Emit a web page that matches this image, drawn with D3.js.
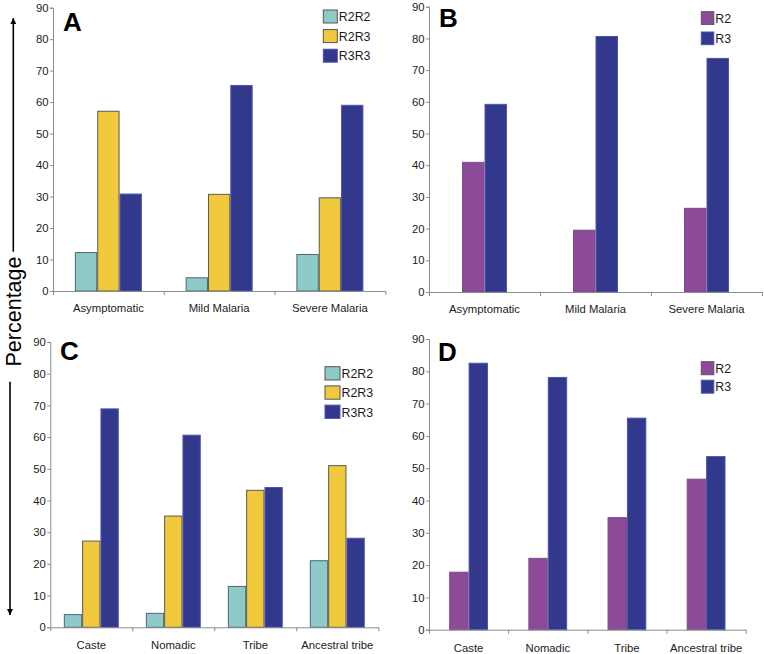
<!DOCTYPE html>
<html>
<head>
<meta charset="utf-8">
<script src="https://cdn.jsdelivr.net/npm/d3@7/dist/d3.min.js"></script>
<style>
  html, body { margin: 0; padding: 0; background: #fff; }
  svg { display: block; }
  text { font-family: "Liberation Sans", Arial, Helvetica, sans-serif; }
</style>
</head>
<body>
<svg id="chart" width="764" height="654"></svg>
<script>
// ---------------- data ----------------
const categoriesAB = ["Asymptomatic", "Mild Malaria", "Severe Malaria"];
const categoriesCD = ["Caste", "Nomadic", "Tribe", "Ancestral tribe"];
const genotypeSeries = ["R2R2", "R2R3", "R3R3"];
const alleleSeries = ["R2", "R3"];
const yTicks = [0, 10, 20, 30, 40, 50, 60, 70, 80, 90];

// Panel A: genotype frequencies by clinical category
const A_R2R2 = [12.2, 4.2, 11.6];
const A_R2R3 = [57.1, 30.7, 29.6];
const A_R3R3 = [30.8, 65.3, 59.0];
// Panel B: allele frequencies by clinical category
const B_R2 = [40.9, 19.5, 26.4];
const B_R3 = [59.2, 80.6, 73.7];
// Panel C: genotype frequencies by population group
const C_R2R2 = [4.0, 4.4, 12.9, 21.0];
const C_R2R3 = [27.2, 35.1, 43.2, 51.0];
const C_R3R3 = [68.9, 60.6, 44.1, 28.1];
// Panel D: allele frequencies by population group
const D_R2 = [17.8, 22.1, 34.7, 46.6];
const D_R3 = [82.5, 78.1, 65.5, 53.6];

const fills = { R2R2: "#8dcac8", R2R3: "#f1c93c", R3R3: "#32388c", R2: "#8c4a99", R3: "#32388c" };
const strokes = { R2R2: "#4f6677", R2R3: "#5d5a52", R3R3: "#4f56a8", R2: "#7a4d8a", R3: "#4f56a8" };

// ---------------- layout ----------------
const panels = [
  { label: "A", cats: categoriesAB, series: genotypeSeries, values: [A_R2R2, A_R2R3, A_R3R3],
    x0: 53, x1: 385.3, yZero: 291, yTop: 7.7, pad: 0.395, labelPad: 12.5,
    lab: [63, 31], leg: { x: 323.3, y: 10, dy: 19.6, w: 14, h: 13 } },
  { label: "B", cats: categoriesAB, series: alleleSeries, values: [B_R2, B_R3],
    x0: 429, x1: 762, yZero: 292, yTop: 6.7, pad: 0.595, labelPad: 12.5,
    lab: [439, 27], leg: { x: 701.3, y: 11.7, dy: 20.3, w: 12.5, h: 12.7 } },
  { label: "C", cats: categoriesCD, series: genotypeSeries, values: [C_R2R2, C_R2R3, C_R3R3],
    x0: 50.3, x1: 378.3, yZero: 627.3, yTop: 342, pad: 0.33, labelPad: 13.5,
    lab: [60, 360], leg: { x: 325, y: 366.7, dy: 19.2, w: 15, h: 13.3 } },
  { label: "D", cats: categoriesCD, series: alleleSeries, values: [D_R2, D_R3],
    x0: 429, x1: 745.7, yZero: 629.7, yTop: 339, pad: 0.51, labelPad: 14,
    lab: [438, 360.5], leg: { x: 701.3, y: 361.7, dy: 18.5, w: 12.5, h: 13 } }
];

const svg = d3.select("#chart");
const axisColor = "#8c8c8c";
const textColor = "#1c1c1c";

panels.forEach(p => {
  const g = svg.append("g");
  const y = d3.scaleLinear().domain([0, 90]).range([p.yZero, p.yTop]);
  const x = d3.scaleBand().domain(p.cats).range([p.x0, p.x1])
    .paddingInner(p.pad).paddingOuter(p.pad / 2);
  const xs = d3.scaleBand().domain(p.series).range([0, x.bandwidth()]);
  const xb = d3.scaleLinear().domain([0, p.cats.length]).range([p.x0, p.x1]);

  // bars
  p.series.forEach((s, si) => {
    g.append("g").selectAll("rect")
      .data(p.values[si].map((v, i) => ({ cat: p.cats[i], v })))
      .join("rect")
      .attr("x", d => x(d.cat) + xs(s) + 0.5)
      .attr("y", d => y(d.v))
      .attr("width", xs.bandwidth() - 1)
      .attr("height", d => y(0) - y(d.v))
      .attr("fill", fills[s])
      .attr("stroke", strokes[s])
      .attr("stroke-width", 1);
  });

  // y axis
  const ya = g.append("g").attr("transform", `translate(${p.x0},0)`)
    .call(d3.axisLeft(y).tickValues(yTicks).tickSize(3).tickPadding(1.5).tickFormat(d3.format("d")));
  ya.select(".domain").attr("stroke", axisColor);
  ya.selectAll(".tick line").attr("stroke", axisColor);
  ya.selectAll("text").attr("fill", textColor).style("font-size", "11.3px")
    .style("font-family", '"Liberation Sans", Arial, Helvetica, sans-serif');

  // x axis: boundary ticks
  const xa = g.append("g").attr("transform", `translate(0,${p.yZero})`)
    .call(d3.axisBottom(xb).tickValues(d3.range(p.cats.length + 1)).tickSize(4).tickSizeOuter(0).tickFormat(""));
  xa.select(".domain").attr("stroke", axisColor);
  xa.selectAll(".tick line").attr("stroke", axisColor);

  // x axis: category labels
  const xl = g.append("g").attr("transform", `translate(0,${p.yZero})`)
    .call(d3.axisBottom(x).tickSize(0).tickPadding(p.labelPad));
  xl.select(".domain").remove();
  xl.selectAll("text").attr("fill", textColor).style("font-size", "11.3px")
    .style("font-family", '"Liberation Sans", Arial, Helvetica, sans-serif');

  // panel label
  g.append("text").attr("x", p.lab[0]).attr("y", p.lab[1])
    .attr("font-size", 26).attr("font-weight", "bold").attr("fill", "#000")
    .text(p.label);

  // legend
  const lg = g.append("g");
  p.series.forEach((s, i) => {
    const ty = p.leg.y + i * p.leg.dy;
    lg.append("rect").attr("x", p.leg.x).attr("y", ty)
      .attr("width", p.leg.w).attr("height", p.leg.h)
      .attr("fill", fills[s]).attr("stroke", strokes[s] === "#4f56a8" ? "#4f56a8" : "#555").attr("stroke-width", 1);
    lg.append("text").attr("x", p.leg.x + p.leg.w + 1.5).attr("y", ty + p.leg.h - 1.8)
      .attr("font-size", 12.4).attr("fill", textColor).text(s);
  });
});

// shared y-axis title with arrows
svg.append("text")
  .attr("transform", "translate(20.5,311.5) rotate(-90)")
  .attr("text-anchor", "middle")
  .attr("font-size", 21.5).attr("fill", "#000")
  .text("Percentage");

const defs = svg.append("defs");
defs.append("marker").attr("id", "ah").attr("viewBox", "0 0 10 10")
  .attr("refX", 10).attr("refY", 5).attr("markerWidth", 6).attr("markerHeight", 6)
  .attr("markerUnits", "userSpaceOnUse").attr("orient", "auto")
  .append("path").attr("d", "M0,0 L10,5 L0,10 Z").attr("fill", "#000");

svg.append("line").attr("x1", 13.3).attr("y1", 251.7).attr("x2", 13.3).attr("y2", 18)
  .attr("stroke", "#000").attr("stroke-width", 1.6).attr("marker-end", "url(#ah)");
svg.append("line").attr("x1", 10).attr("y1", 381.7).attr("x2", 10).attr("y2", 615)
  .attr("stroke", "#000").attr("stroke-width", 1.6).attr("marker-end", "url(#ah)");
</script>
</body>
</html>
